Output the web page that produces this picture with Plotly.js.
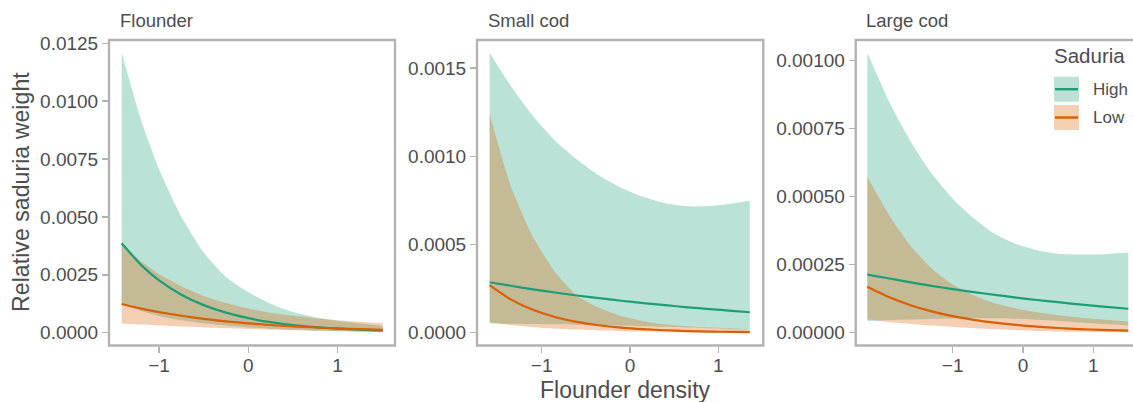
<!DOCTYPE html>
<html>
<head>
<meta charset="utf-8">
<script src="https://cdn.plot.ly/plotly-3.0.1.min.js"></script>
<style>html,body{margin:0;padding:0;background:#fff;}#chart{width:1133px;height:402px;}</style>
</head>
<body>
<div id="chart"></div>
<script>
// ---------- DATA ----------
const panelTitles = ["Flounder", "Small cod", "Large cod"];
const seriesNames = ["High", "Low"];
const legendTitle = "Saduria";
const xTitle = "Flounder density";
const yTitle = "Relative saduria weight";
const xTickVals = [-1, 0, 1];

// Flounder panel
const flounderX        = [-1.42, -1.2, -1.0, -0.75, -0.5, -0.25, 0, 0.25, 0.5, 0.75, 1.0, 1.25, 1.507];
const flounderHighMean = [0.00386, 0.00292, 0.00226, 0.00164, 0.00119, 0.000867, 0.00063, 0.000458, 0.000333, 0.000242, 0.000176, 0.000128, 0.000092];
const flounderHighUp   = [0.0121, 0.00915, 0.00706, 0.00501, 0.00347, 0.00241, 0.00175, 0.00125, 0.00089, 0.00067, 0.000515, 0.000394, 0.0003];
const flounderHighLo   = [0.00123, 0.000932, 0.000723, 0.000537, 0.000408, 0.000312, 0.000227, 0.000168, 0.000125, 0.0000874, 0.0000601, 0.0000416, 0.0000282];
const flounderLowMean  = [0.00124, 0.001043, 0.00089, 0.000731, 0.0006, 0.000492, 0.000404, 0.000332, 0.000272, 0.000224, 0.000183, 0.000151, 0.000123];
const flounderLowUp    = [0.00384, 0.00308, 0.00254, 0.00201, 0.00159, 0.00128, 0.00104, 0.000863, 0.000729, 0.000627, 0.00054, 0.000468, 0.000406];
const flounderLowLo    = [0.0004, 0.000354, 0.000312, 0.000266, 0.000226, 0.000189, 0.000157, 0.000128, 0.000101, 0.00008, 0.000062, 0.0000487, 0.0000373];

// Small cod panel
const smallCodX        = [-1.589, -1.35, -1.1, -0.85, -0.6, -0.35, -0.1, 0.15, 0.4, 0.65, 0.9, 1.15, 1.356];
const smallCodHighMean = [0.000286, 0.000266, 0.000246, 0.000228, 0.000211, 0.000196, 0.000181, 0.000168, 0.000156, 0.000144, 0.000134, 0.000124, 0.000116];
const smallCodHighUp   = [0.001587, 0.0014, 0.00123, 0.00109, 0.000982, 0.000891, 0.000822, 0.00077, 0.000733, 0.000716, 0.000718, 0.000731, 0.000748];
const smallCodHighLo   = [0.0000515, 0.0000505, 0.0000492, 0.0000477, 0.0000453, 0.0000431, 0.0000399, 0.0000367, 0.0000333, 0.000029, 0.000025, 0.0000209, 0.000018];
const smallCodLowMean  = [0.00027, 0.000189, 0.00013, 0.0000891, 0.0000612, 0.0000421, 0.0000289, 0.0000199, 0.0000137, 0.0000094, 0.0000065, 0.0000044, 0.0000032];
const smallCodLowUp    = [0.00124, 0.000832, 0.000545, 0.000345, 0.00021, 0.000141, 0.0000945, 0.0000654, 0.0000469, 0.000036, 0.000029, 0.000024, 0.00002];
const smallCodLowLo    = [0.0000588, 0.0000429, 0.000031, 0.000023, 0.0000178, 0.0000126, 0.0000088, 0.0000061, 0.000004, 0.0000024, 0.0000015, 0.0000008, 0.0000005];

// Large cod panel
const largeCodX        = [-2.215, -1.9, -1.6, -1.3, -1.0, -0.7, -0.4, -0.1, 0.2, 0.5, 0.8, 1.1, 1.498];
const largeCodHighMean = [0.000213, 0.000199, 0.000185, 0.000172, 0.00016, 0.000149, 0.000139, 0.000129, 0.00012, 0.000112, 0.000104, 0.0000968, 0.000088];
const largeCodHighUp   = [0.001028, 0.000846, 0.000703, 0.000585, 0.000492, 0.00042, 0.000362, 0.000326, 0.000303, 0.00029, 0.000287, 0.000287, 0.000294];
const largeCodHighLo   = [0.0000429, 0.0000468, 0.0000487, 0.0000506, 0.000052, 0.0000529, 0.0000534, 0.0000511, 0.0000475, 0.0000433, 0.0000377, 0.0000326, 0.0000263];
const largeCodLowMean  = [0.000169, 0.00013, 0.000101, 0.0000784, 0.0000609, 0.0000473, 0.0000368, 0.0000286, 0.0000222, 0.0000173, 0.0000134, 0.0000104, 0.0000075];
const largeCodLowUp    = [0.000573, 0.000429, 0.000319, 0.000236, 0.000177, 0.000137, 0.000108, 0.0000888, 0.0000749, 0.0000642, 0.0000562, 0.000049, 0.0000404];
const largeCodLowLo    = [0.0000498, 0.0000394, 0.000032, 0.000026, 0.000021, 0.0000163, 0.0000125, 0.0000092, 0.0000066, 0.0000047, 0.0000032, 0.0000022, 0.0000014];

// ---------- STYLE ----------
const FIG_W = 1133, FIG_H = 402;
const px = v => v / FIG_W;
const py = v => 1 - v / FIG_H;
const FONT = '"Liberation Sans", Arial, Helvetica, sans-serif';
const TXT = '#4d4d4d';
const FRAME = '#b3b3b3';
const colHigh = '#1b9e77', colLow = '#d95f02';
const fillHigh = 'rgba(27,158,119,0.3)', fillLow = 'rgba(217,95,2,0.3)';

const panels = [
  {x: flounderX, hm: flounderHighMean, hu: flounderHighUp, hl: flounderHighLo, lm: flounderLowMean, lu: flounderLowUp, ll: flounderLowLo,
   frame: [109, 395], xr: [-1.5617, 1.6446], yr: [-0.000553, 0.012642], dtick: 0.0025, fmt: '.4f', titleX: 118},
  {x: smallCodX, hm: smallCodHighMean, hu: smallCodHighUp, hl: smallCodHighLo, lm: smallCodLowMean, lu: smallCodLowUp, ll: smallCodLowLo,
   frame: [477, 763.3], xr: [-1.7317, 1.5088], yr: [-0.0000726, 0.001659], dtick: 0.0005, fmt: '.4f', titleX: 485.5},
  {x: largeCodX, hm: largeCodHighMean, hu: largeCodHighUp, hl: largeCodHighLo, lm: largeCodLowMean, lu: largeCodLowUp, ll: largeCodLowLo,
   frame: [855.7, 1133], xr: [-2.3798, 1.5647], yr: [-0.000047, 0.0010745], dtick: 0.00025, fmt: '.5f', titleX: 864}
];
const FRAME_TOP = 40, FRAME_BOT = 345.5;

const traces = [];
const layout = {
  width: FIG_W, height: FIG_H,
  margin: {l: 0, r: 0, t: 0, b: 0},
  paper_bgcolor: '#ffffff', plot_bgcolor: '#ffffff',
  showlegend: false,
  font: {family: FONT, color: TXT},
  shapes: [], annotations: []
};

panels.forEach((p, i) => {
  const n = i === 0 ? '' : String(i + 1);
  const xa = 'x' + n, ya = 'y' + n;
  const base = {xaxis: xa, yaxis: ya, mode: 'lines', hoverinfo: 'skip'};
  const sp = {shape: 'spline', smoothing: 0.6};
  traces.push(Object.assign({}, base, {x: p.x, y: p.hl, line: Object.assign({width: 0, color: 'rgba(0,0,0,0)'}, sp)}));
  traces.push(Object.assign({}, base, {x: p.x, y: p.hu, fill: 'tonexty', fillcolor: fillHigh, line: Object.assign({width: 0, color: 'rgba(0,0,0,0)'}, sp)}));
  traces.push(Object.assign({}, base, {x: p.x, y: p.ll, line: Object.assign({width: 0, color: 'rgba(0,0,0,0)'}, sp)}));
  traces.push(Object.assign({}, base, {x: p.x, y: p.lu, fill: 'tonexty', fillcolor: fillLow, line: Object.assign({width: 0, color: 'rgba(0,0,0,0)'}, sp)}));
  traces.push(Object.assign({}, base, {x: p.x, y: p.hm, name: seriesNames[0], line: Object.assign({width: 2.2, color: colHigh}, sp)}));
  traces.push(Object.assign({}, base, {x: p.x, y: p.lm, name: seriesNames[1], line: Object.assign({width: 2.2, color: colLow}, sp)}));

  layout['xaxis' + n] = {
    domain: [px(p.frame[0]), Math.min(1, px(p.frame[1]))], anchor: ya,
    range: p.xr, tickvals: xTickVals, ticks: 'outside', ticklen: 6, tickwidth: 1.5, tickcolor: FRAME,
    ticklabelstandoff: -3,
    showgrid: false, zeroline: false, showline: false,
    tickfont: {family: FONT, size: 19, color: TXT}, fixedrange: true
  };
  layout['yaxis' + n] = {
    domain: [py(FRAME_BOT), py(FRAME_TOP)], anchor: xa,
    range: p.yr, tick0: 0, dtick: p.dtick, tickformat: p.fmt, ticks: 'outside', ticklen: 6, tickwidth: 1.5, tickcolor: FRAME,
    showgrid: false, zeroline: false, showline: false,
    tickfont: {family: FONT, size: 19, color: TXT}, fixedrange: true
  };
  const right = i === 2 ? p.frame[1] + 10 : p.frame[1];
  layout.shapes.push({type: 'rect', xref: 'paper', yref: 'paper', layer: 'above',
    x0: px(p.frame[0]), x1: px(right), y0: py(FRAME_BOT), y1: py(FRAME_TOP),
    line: {color: FRAME, width: 2.4}, fillcolor: 'rgba(0,0,0,0)'});
  layout.annotations.push({text: panelTitles[i], xref: 'paper', yref: 'paper', x: px(p.titleX), y: py(20.5),
    xanchor: 'left', yanchor: 'middle', showarrow: false, font: {family: FONT, size: 18.5, color: TXT}});
});

// axis titles
layout.annotations.push({text: xTitle, xref: 'paper', yref: 'paper', x: px(625), y: py(390),
  xanchor: 'center', yanchor: 'middle', showarrow: false, font: {family: FONT, size: 23, color: TXT}});
layout.annotations.push({text: yTitle, xref: 'paper', yref: 'paper', x: px(21), y: py(192), textangle: -90,
  xanchor: 'center', yanchor: 'middle', showarrow: false, font: {family: FONT, size: 23.2, color: TXT}});

// legend (drawn manually to match the ribbon + line keys)
layout.annotations.push({text: legendTitle, xref: 'paper', yref: 'paper', x: px(1052), y: py(55.5),
  xanchor: 'left', yanchor: 'middle', showarrow: false, font: {family: FONT, size: 20.5, color: TXT}});
const keys = [{fill: fillHigh, col: colHigh, top: 76.7}, {fill: fillLow, col: colLow, top: 105}];
keys.forEach((k, j) => {
  layout.shapes.push({type: 'rect', xref: 'paper', yref: 'paper', layer: 'above',
    x0: px(1054), x1: px(1079), y0: py(k.top + 25), y1: py(k.top), line: {width: 0}, fillcolor: k.fill});
  layout.shapes.push({type: 'line', xref: 'paper', yref: 'paper', layer: 'above',
    x0: px(1055), x1: px(1078), y0: py(k.top + 12.5), y1: py(k.top + 12.5), line: {width: 2.4, color: k.col}});
  layout.annotations.push({text: seriesNames[j], xref: 'paper', yref: 'paper', x: px(1091), y: py(k.top + 12.5),
    xanchor: 'left', yanchor: 'middle', showarrow: false, font: {family: FONT, size: 17, color: TXT}});
});

Plotly.newPlot('chart', traces, layout, {staticPlot: true, displayModeBar: false});
</script>
</body>
</html>
